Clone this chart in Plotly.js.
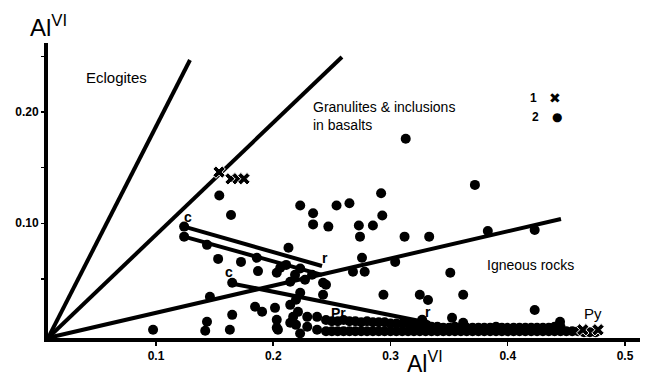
<!DOCTYPE html>
<html><head><meta charset="utf-8">
<script src="https://cdn.plot.ly/plotly-3.0.1.min.js"></script>
<style>html,body{margin:0;padding:0;background:#fff}#chart{width:645px;height:378px}</style>
</head><body><div id="chart"></div>
<script>
// Field boundary lines (from the origin)
const eclogiteLineX = [0.008, 0.129];
const eclogiteLineY = [-0.003, 0.2467];
const granuliteLineX = [0.008, 0.2586];
const granuliteLineY = [-0.003, 0.2494];
const igneousLineX = [0.008, 0.4454];
const igneousLineY = [-0.003, 0.1039];

// Core (c) to rim (r) tie lines
const tieAX = [0.124, 0.2416];
const tieAY = [0.097, 0.0616];
const tieBX = [0.124, 0.2416];
const tieBY = [0.088, 0.0536];
const tieCX = [0.1665, 0.3337];
const tieCY = [0.0455, 0.0104];

// Series 1 (crosses)
const crossX = [0.1538, 0.164, 0.170, 0.175, 0.464, 0.477];
const crossY = [0.146, 0.1399, 0.140, 0.140, 0.0043, 0.0043];

// Series 2 (dots)
const dotsX = [0.313,0.372,0.292,0.293,0.223,0.234,0.254,0.265,0.234,0.247,0.273,0.285,0.274,0.312,0.333,0.383,0.423,
  0.154,0.164,0.124,0.124,0.1435,0.153,0.1725,0.186,0.187,0.203,0.213,0.211,0.165,0.146,0.223,0.2425,0.2425,
  0.1845,0.1905,0.2015,0.165,0.1435,0.203,0.142,0.163,0.203,0.0975,0.2145,0.217,0.229,0.2374,0.2145,0.204,
  0.2374,0.229,0.2145,0.206,0.2757,0.268,0.278,0.304,0.294,0.325,0.332,0.327,0.362,0.3525,0.362,0.351,0.423,
  0.4446,0.223,0.2331,0.245,0.2186,0.2271,0.2194,0.2211,0.2194,0.2229];
const dotsY = [0.176,0.1345,0.127,0.107,0.116,0.109,0.116,0.118,0.099,0.097,0.098,0.098,0.088,0.088,0.088,0.093,0.094,
  0.125,0.1075,0.097,0.088,0.0806,0.068,0.0653,0.069,0.057,0.0555,0.078,0.0626,0.0465,0.034,0.0375,0.0465,0.0357,
  0.025,0.0205,0.024,0.0177,0.0115,0.0132,0.0034,0.0043,0.006,0.0043,0.0267,0.0159,0.0159,0.0159,0.0106,0.0043,
  0.0043,0.007,0.0474,0.060,0.069,0.0564,0.0564,0.0653,0.0357,0.0357,0.031,0.0132,0.0357,0.015,0.0106,0.0555,0.022,
  0.0115,0.0594,0.0537,0.0447,0.0537,0.0492,0.0312,0.0204,0.0087,0.001];

// Dense cluster of dots along the base (three overlapping rows)
const bandUpperX = [0.245,0.25,0.255,0.26,0.265,0.27,0.275,0.28,0.285,0.29,0.295,0.30,0.305,0.31,0.315,0.32,0.325,0.33];
const bandUpperY = [0.013,0.012,0.012,0.013,0.012,0.012,0.011,0.012,0.011,0.011,0.011,0.010,0.010,0.010,0.010,0.009,0.009,0.009];
const bandMidX = [0.335,0.34,0.345,0.35,0.355,0.36,0.365,0.37,0.375,0.38,0.385,0.39,0.395,0.40,0.405,0.41,0.415,0.42,0.425,0.43,0.435,0.44,0.445];
const bandMidY = [0.007,0.007,0.006,0.006,0.007,0.006,0.006,0.006,0.006,0.006,0.006,0.007,0.006,0.006,0.006,0.006,0.006,0.006,0.006,0.006,0.006,0.007,0.007];
const bandLowX = [0.245,0.25,0.255,0.26,0.265,0.27,0.275,0.28,0.285,0.29,0.295,0.30,0.305,0.31,0.315,0.32,0.325,0.33,0.335,0.34,
  0.345,0.35,0.355,0.36,0.365,0.37,0.375,0.38,0.385,0.39,0.395,0.40,0.405,0.41,0.415,0.42,0.425,0.43,0.435,0.44,0.445,0.45,0.455,0.46,0.465,0.47,0.475];
const bandLowY = [0.003,0.003,0.003,0.003,0.003,0.003,0.003,0.003,0.003,0.003,0.003,0.003,0.003,0.003,0.003,0.003,0.003,0.003,0.003,0.003,
  0.003,0.003,0.003,0.003,0.003,0.003,0.003,0.003,0.003,0.003,0.003,0.003,0.003,0.003,0.003,0.003,0.003,0.003,0.003,0.003,0.003,0.003,0.003,0.003,0.002,0.002,0.002];

const xTickVals = [0.1, 0.2, 0.3, 0.4, 0.5];
const xTickText = ['0.1', '0.2', '0.3', '0.4', '0.5'];
const yTickVals = [0.05, 0.10, 0.15, 0.20, 0.25];
const yTickText = ['', '0.10', '', '0.20', ''];

const lineStyle = {color: '#000', width: 4};
function lineTrace(x, y) {
  return {x: x, y: y, mode: 'lines', line: lineStyle, hoverinfo: 'skip', showlegend: false, cliponaxis: false};
}
function dotTrace(x, y) {
  return {x: x, y: y, mode: 'markers', marker: {symbol: 'circle', size: 10, color: '#000'}, showlegend: false, cliponaxis: false};
}
const traces = [
  lineTrace(eclogiteLineX, eclogiteLineY),
  lineTrace(granuliteLineX, granuliteLineY),
  lineTrace(igneousLineX, igneousLineY),
  lineTrace(tieAX, tieAY),
  lineTrace(tieBX, tieBY),
  lineTrace(tieCX, tieCY),
  dotTrace(bandUpperX, bandUpperY),
  dotTrace(bandMidX, bandMidY),
  dotTrace(bandLowX, bandLowY),
  dotTrace(dotsX, dotsY),
  {x: crossX, y: crossY, mode: 'markers', marker: {symbol: 'x', size: 11, color: '#000', line: {color: '#fff', width: 1}}, showlegend: false, cliponaxis: false}
];

const F = 'Liberation Sans, Arial, sans-serif';
function txt(x, y, text, size, weight, xanchor) {
  return {x: x, y: y, xref: 'x', yref: 'y', text: text, showarrow: false,
    font: {family: F, size: size, color: '#000', weight: weight || 'normal'}, xanchor: xanchor || 'center', yanchor: 'middle'};
}
const annotations = [
  txt(0.0667, 0.2306, 'Eclogites', 15),
  {x: 0.2322, y: 0.1964, xref: 'x', yref: 'y', text: 'Granulites &amp; inclusions<br>in basalts', showarrow: false, align: 'left',
    xanchor: 'left', yanchor: 'middle', font: {family: F, size: 14, color: '#000'}},
  txt(0.419, 0.0627, 'Igneous rocks', 14),
  txt(0.1273, 0.1058, 'c', 14, 'bold'),
  txt(0.1623, 0.0564, 'c', 14, 'bold'),
  txt(0.2442, 0.069, 'r', 14, 'bold'),
  txt(0.332, 0.0204, 'r', 14, 'bold'),
  txt(0.2553, 0.0195, 'Pr', 14, 'bold'),
  txt(0.4727, 0.0185, 'Py', 15),
  txt(0.4216, 0.2126, '1', 12, 'bold'),
  {x: 0.4404, y: 0.2126, xref: 'x', yref: 'y', text: '✖', showarrow: false, font: {family: 'DejaVu Sans', size: 14, color: '#000'}},
  txt(0.4233, 0.1955, '2', 12, 'bold'),
  {x: 0.442, y: 0.1955, xref: 'x', yref: 'y', text: '●', showarrow: false, font: {family: 'DejaVu Sans', size: 12, color: '#000'}},
  {x: 0.0, y: 1.0, xref: 'paper', yref: 'paper', text: 'Al<sup>VI</sup>', showarrow: false, xanchor: 'center', yanchor: 'bottom',
    font: {family: F, size: 24, color: '#000'}},
  {x: 0.637, y: -0.138, xref: 'paper', yref: 'paper', text: 'Al<sup>VI</sup>', showarrow: false, xanchor: 'center', yanchor: 'bottom',
    font: {family: F, size: 23, color: '#000'}}
];

const tickFont = {family: F, size: 12, color: '#000', weight: 'bold'};
const layout = {
  width: 645, height: 378,
  margin: {l: 48, r: 5, t: 43, b: 40},
  paper_bgcolor: '#fff', plot_bgcolor: '#fff',
  showlegend: false,
  xaxis: {range: [0.0079, 0.5128], tickvals: xTickVals, ticktext: xTickText, ticks: 'outside', ticklen: 4, tickwidth: 1.5,
    tickcolor: '#000', showline: true, linewidth: 4, linecolor: '#000', showgrid: false, zeroline: false, tickfont: tickFont},
  yaxis: {range: [-0.0031, 0.262], tickvals: yTickVals, ticktext: yTickText, ticks: 'outside', ticklen: 3, tickwidth: 1.5,
    tickcolor: '#000', showline: true, linewidth: 4, linecolor: '#000', showgrid: false, zeroline: false, tickfont: tickFont},
  annotations: annotations
};
Plotly.newPlot('chart', traces, layout, {displayModeBar: false, staticPlot: true});
</script></body></html>
